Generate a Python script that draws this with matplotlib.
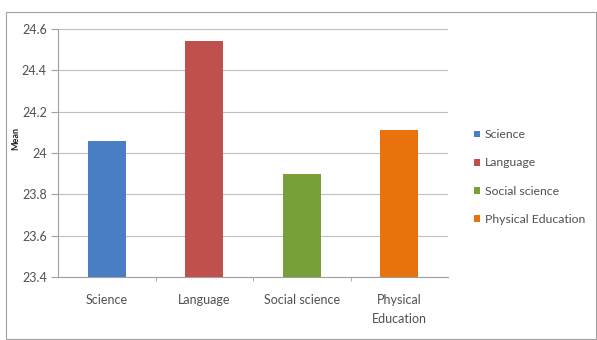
import matplotlib
matplotlib.use("Agg")
import matplotlib.pyplot as plt
from matplotlib.patches import Rectangle, Patch

categories = ["Science", "Language", "Social science", "Physical\nEducation"]
legend_labels = ["Science", "Language", "Social science", "Physical Education"]
means = [24.06, 24.54, 23.90, 24.11]
colors = ["#4A7EC4", "#C0504D", "#77A038", "#E8720C"]
yticks = [23.4, 23.6, 23.8, 24.0, 24.2, 24.4, 24.6]
ytick_labels = ["23.4", "23.6", "23.8", "24", "24.2", "24.4", "24.6"]

plt.rcParams['font.family'] = ['Lato', 'DejaVu Sans']

fig = plt.figure(figsize=(5.97, 3.40), dpi=100)
fig.patches.append(Rectangle((6/597, 0.002), 590/597, 1 - 12/340 - 0.002,
                             transform=fig.transFigure, fill=False,
                             edgecolor="#A0A0A0", linewidth=0.8))
ax = fig.add_axes([58/597, 1 - 277/340, 390/597, 248/340])

x = list(range(len(categories)))
ax.bar(x, [m - 23.4 for m in means], bottom=23.4, width=0.39, color=colors, zorder=3)
ax.set_xlim(-0.5, len(categories) - 0.5)
ax.set_ylim(23.4, 24.6)
ax.set_yticks(yticks)
ax.set_yticklabels(ytick_labels, fontsize=9, color="#505050")
ax.set_xticks(x)
ax.set_xticklabels(categories, fontsize=9, color="#505050", linespacing=1.7)
ax.tick_params(axis='x', length=0, pad=12)
ax.tick_params(axis='y', length=5, color="#A0A0A0", pad=3)
ax.set_xticks([0.5, 1.5, 2.5], minor=True)
ax.tick_params(axis='x', which='minor', length=3, color="#A0A0A0")
ax.grid(axis='y', color="#BFBFBF", linewidth=0.8, zorder=0)
for s in ["top", "right"]:
    ax.spines[s].set_visible(False)
for s in ["left", "bottom"]:
    ax.spines[s].set_color("#A0A0A0")
    ax.spines[s].set_linewidth(0.8)
fig.text(16/597, 1 - 138/340, "Mean", fontsize=6.5, fontweight="bold",
         rotation=90, ha="center", va="center", color="#202020")

handles = [Patch(facecolor=c, label=l) for c, l in zip(colors, legend_labels)]
fig.legend(handles=handles, loc="center left", bbox_to_anchor=(463/597, 1 - 177/340),
           frameon=False, fontsize=8.8, handlelength=0.5, handleheight=0.5,
           handletextpad=0.4, labelspacing=1.4, labelcolor="#505050")

fig.savefig("out.png", dpi=100)
